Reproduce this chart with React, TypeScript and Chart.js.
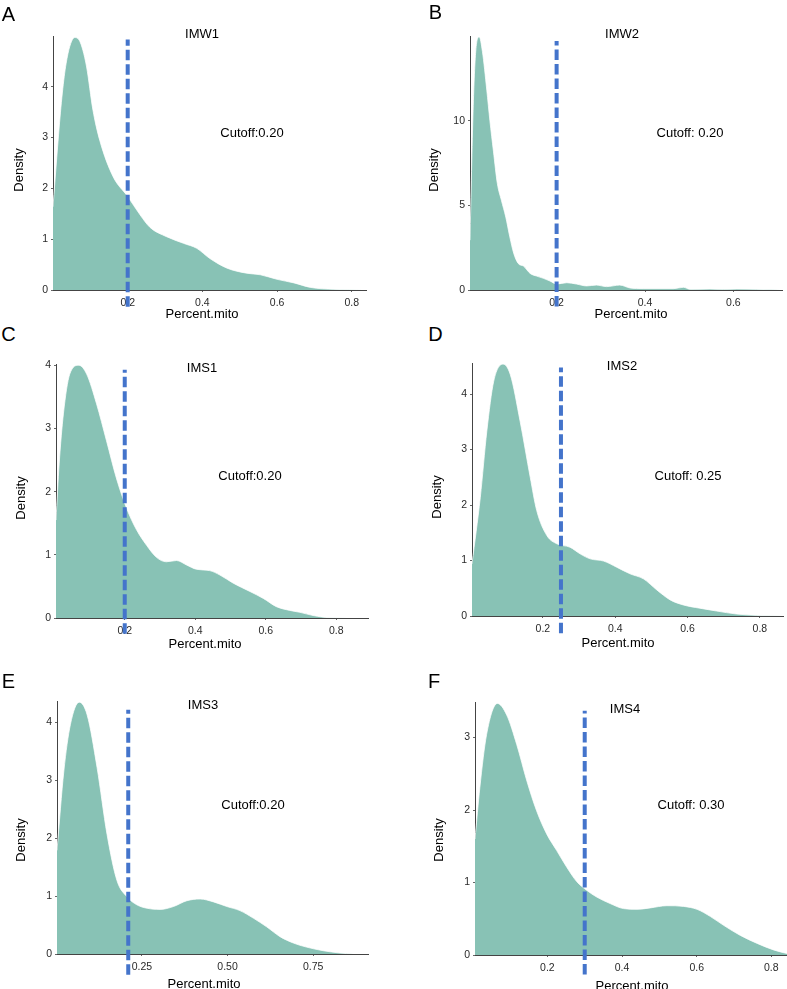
import React, { useEffect, useRef } from 'react';
import { Chart, registerables } from 'chart.js';

Chart.register(...registerables);

const FONT = '"Liberation Sans", Arial, Helvetica, sans-serif';

// ---------- labels ----------
const panelLetters = ['A', 'B', 'C', 'D', 'E', 'F'];
const sampleNames = ['IMW1', 'IMW2', 'IMS1', 'IMS2', 'IMS3', 'IMS4'];
const cutoffLabels = ['Cutoff:0.20', 'Cutoff: 0.20', 'Cutoff:0.20', 'Cutoff: 0.25', 'Cutoff:0.20', 'Cutoff: 0.30'];
const cutoffValues = [0.2, 0.2, 0.2, 0.25, 0.21, 0.3];
const xAxisTitle = 'Percent.mito';
const yAxisTitle = 'Density';

// ---------- density curves ----------
const imw1X = [0, 0.01, 0.02, 0.03, 0.04, 0.05, 0.058, 0.07, 0.08, 0.09, 0.107, 0.125, 0.161, 0.2, 0.233, 0.26, 0.304, 0.349, 0.385, 0.42, 0.466, 0.519, 0.555, 0.6, 0.645, 0.69, 0.752, 0.83];
const imw1Y = [1.64, 2.6, 3.5, 4.2, 4.65, 4.9, 4.97, 4.92, 4.72, 4.39, 3.54, 2.95, 2.23, 1.84, 1.48, 1.23, 1.05, 0.92, 0.82, 0.62, 0.43, 0.33, 0.3, 0.21, 0.14, 0.05, 0.013, 0];

const imw2X = [0.004, 0.011, 0.017, 0.025, 0.032, 0.042, 0.049, 0.057, 0.066, 0.075, 0.085, 0.094, 0.103, 0.113, 0.125, 0.14, 0.155, 0.17, 0.185, 0.2, 0.223, 0.245, 0.268, 0.29, 0.313, 0.343, 0.366, 0.396, 0.464, 0.487, 0.502, 0.547, 0.577, 0.608, 0.653, 0.706];
const imw2Y = [2.94, 10.6, 14.1, 14.94, 14.1, 11.8, 10.0, 8.2, 6.27, 5.3, 4.3, 3.14, 2.16, 1.57, 1.41, 0.98, 0.82, 0.69, 0.53, 0.35, 0.43, 0.35, 0.24, 0.29, 0.2, 0.29, 0.12, 0.08, 0.08, 0.16, 0.04, 0.06, 0.04, 0.06, 0.04, 0];

const ims1X = [0.005, 0.014, 0.026, 0.044, 0.07, 0.092, 0.12, 0.148, 0.177, 0.205, 0.233, 0.262, 0.29, 0.318, 0.347, 0.375, 0.404, 0.441, 0.47, 0.508, 0.555, 0.593, 0.63, 0.668, 0.697, 0.734, 0.782, 0.886];
const ims1Y = [1.55, 2.44, 3.23, 3.86, 4.0, 3.86, 3.39, 2.81, 2.2, 1.74, 1.4, 1.15, 0.96, 0.89, 0.91, 0.84, 0.77, 0.75, 0.68, 0.55, 0.42, 0.31, 0.18, 0.12, 0.09, 0.04, 0.005, 0];

const ims2X = [0.004, 0.027, 0.045, 0.064, 0.09, 0.11, 0.137, 0.165, 0.183, 0.211, 0.239, 0.275, 0.303, 0.331, 0.368, 0.404, 0.441, 0.478, 0.515, 0.552, 0.588, 0.634, 0.68, 0.735, 0.79, 0.864];
const ims2Y = [0.94, 2.14, 3.33, 4.23, 4.54, 4.35, 3.51, 2.5, 1.9, 1.45, 1.3, 1.24, 1.12, 1.03, 0.99, 0.88, 0.76, 0.67, 0.47, 0.29, 0.2, 0.14, 0.09, 0.036, 0.012, 0];

const ims3X = [0.002, 0.022, 0.041, 0.067, 0.09, 0.119, 0.148, 0.177, 0.206, 0.235, 0.265, 0.303, 0.342, 0.381, 0.42, 0.459, 0.498, 0.536, 0.575, 0.614, 0.653, 0.692, 0.73, 0.779, 0.828, 0.867];
const ims3Y = [1.79, 3.16, 3.96, 4.35, 4.13, 3.22, 2.07, 1.27, 0.99, 0.85, 0.79, 0.77, 0.82, 0.92, 0.95, 0.9, 0.82, 0.75, 0.62, 0.47, 0.3, 0.19, 0.12, 0.057, 0.017, 0];

const ims4X = [0.006, 0.019, 0.037, 0.066, 0.091, 0.118, 0.145, 0.171, 0.198, 0.225, 0.252, 0.279, 0.306, 0.332, 0.368, 0.404, 0.44, 0.476, 0.52, 0.565, 0.601, 0.637, 0.672, 0.717, 0.762, 0.806, 0.842];
const ims4Y = [1.6, 2.31, 3.04, 3.47, 3.31, 2.9, 2.4, 1.99, 1.67, 1.44, 1.21, 1.01, 0.89, 0.8, 0.71, 0.64, 0.63, 0.65, 0.68, 0.67, 0.63, 0.53, 0.41, 0.27, 0.16, 0.07, 0.02];

// ---------- axes ----------
const xMins = [0, 0.004, 0.005, 0.004, 0.002, 0.006];
const xMaxs = [0.838, 0.71, 0.89, 0.864, 0.91, 0.842];
const yMaxs = [5.0, 15.0, 4.02, 4.56, 4.37, 3.49];

const xTicksStd = [0.2, 0.4, 0.6, 0.8];
const xTicksStdLabels = ['0.2', '0.4', '0.6', '0.8'];
const xTicksB = [0.2, 0.4, 0.6];
const xTicksBLabels = ['0.2', '0.4', '0.6'];
const xTicksE = [0.25, 0.5, 0.75];
const xTicksELabels = ['0.25', '0.50', '0.75'];

const yTicks5 = [0, 1, 2, 3, 4];
const yTicks15 = [0, 5, 10];
const yTicks4 = [0, 1, 2, 3];

// cutoff line extent (data units): top, bottom
const cutoffLineTop = [4.93, 14.7, 3.93, 4.48, 4.22, 3.37];
const cutoffLineBottom = [-0.33, -0.98, -0.25, -0.31, -0.36, -0.27];

// ---------- layout (page pixels) ----------
type Box = { L: number; R: number; T: number; B: number };
const plotBoxes: Box[] = [
  { L: 53, R: 366, T: 36, B: 290 },
  { L: 470, R: 782, T: 36, B: 290 },
  { L: 56, R: 368, T: 364, B: 618 },
  { L: 472, R: 783, T: 363, B: 616 },
  { L: 57, R: 368, T: 701, B: 954 },
  { L: 475, R: 787, T: 702, B: 955 },
];
const letterPos = [[8.5, 13.5], [435.5, 12], [8.5, 333.5], [435.5, 333.5], [8.5, 680.5], [434, 680.5]];
const titlePos = [[202, 33], [622, 33], [202, 367], [622, 365], [203, 704], [625, 708]];
const cutoffPos = [[252, 132], [690, 132], [250, 475], [688, 475], [253, 804], [691, 804]];
const xTitlePos = [[202, 313], [631, 313], [205, 643], [618, 642], [204, 983], [632, 985]];
const yTitlePos = [[18, 170], [433, 170], [20, 498], [436, 497], [20, 840], [438, 840]];

const Y_AXIS_W = 45;
const PAD_TOP = 12;
const X_AXIS_H = 30;

const FILL = '#88C2B5';
const LINE_BLUE = '#4474CB';

type PanelCfg = {
  xs: number[];
  ys: number[];
  xTicks: number[];
  xTickLabels: string[];
  yTicks: number[];
};

const panelData: PanelCfg[] = [
  { xs: imw1X, ys: imw1Y, xTicks: xTicksStd, xTickLabels: xTicksStdLabels, yTicks: yTicks5 },
  { xs: imw2X, ys: imw2Y, xTicks: xTicksB, xTickLabels: xTicksBLabels, yTicks: yTicks15 },
  { xs: ims1X, ys: ims1Y, xTicks: xTicksStd, xTickLabels: xTicksStdLabels, yTicks: yTicks5 },
  { xs: ims2X, ys: ims2Y, xTicks: xTicksStd, xTickLabels: xTicksStdLabels, yTicks: yTicks5 },
  { xs: ims3X, ys: ims3Y, xTicks: xTicksE, xTickLabels: xTicksELabels, yTicks: yTicks5 },
  { xs: ims4X, ys: ims4Y, xTicks: xTicksStd, xTickLabels: xTicksStdLabels, yTicks: yTicks4 },
];

function Panel({ i }: { i: number }) {
  const ref = useRef<HTMLCanvasElement | null>(null);
  const box = plotBoxes[i];
  const padRight = Math.max(0, Math.min(4, 787 - box.R));
  const left = box.L - Y_AXIS_W;
  const top = box.T - PAD_TOP;
  const width = box.R - box.L + Y_AXIS_W + padRight;
  const height = box.B - box.T + PAD_TOP + X_AXIS_H;

  useEffect(() => {
    const cfg = panelData[i];
    const density = cfg.xs.map((x, k) => ({ x, y: cfg.ys[k] }));
    const cutoffLine = [
      { x: cutoffValues[i], y: cutoffLineBottom[i] },
      { x: cutoffValues[i], y: cutoffLineTop[i] },
    ];
    const chart = new Chart(ref.current as HTMLCanvasElement, {
      type: 'line',
      data: {
        datasets: [
          {
            data: cutoffLine,
            borderColor: LINE_BLUE,
            borderWidth: 4,
            borderDash: [10.5, 4],
            pointRadius: 0,
            fill: false,
            clip: false,
            borderCapStyle: 'butt',
          } as any,
          {
            data: density,
            borderColor: 'rgba(255,255,255,0.75)',
            borderWidth: 1,
            backgroundColor: FILL,
            fill: 'origin',
            pointRadius: 0,
            cubicInterpolationMode: 'monotone',
          } as any,
        ],
      },
      options: {
        responsive: false,
        maintainAspectRatio: false,
        animation: false,
        devicePixelRatio: 1,
        layout: { padding: { left: 0, top: PAD_TOP, right: padRight, bottom: 0 } },
        plugins: { legend: { display: false }, tooltip: { enabled: false }, title: { display: false } },
        events: [],
        scales: {
          x: {
            type: 'linear',
            min: xMins[i],
            max: xMaxs[i],
            afterBuildTicks: (s: any) => {
              s.ticks = cfg.xTicks.map((v) => ({ value: v }));
            },
            afterFit: (s: any) => {
              s.height = X_AXIS_H;
            },
            ticks: {
              autoSkip: false,
              maxRotation: 0,
              padding: 5,
              color: '#2a2a2a',
              font: { family: FONT, size: 10.5 },
              callback: (_v: any, idx: number) => cfg.xTickLabels[idx],
            },
            grid: { display: true, drawOnChartArea: false, drawTicks: true, tickLength: 2, color: '#666' },
            border: { display: true, color: '#444', width: 1 },
          },
          y: {
            type: 'linear',
            min: 0,
            max: yMaxs[i],
            afterBuildTicks: (s: any) => {
              s.ticks = cfg.yTicks.map((v) => ({ value: v }));
            },
            afterFit: (s: any) => {
              s.width = Y_AXIS_W;
            },
            ticks: {
              autoSkip: false,
              padding: 3,
              color: '#2a2a2a',
              font: { family: FONT, size: 10.5 },
              callback: (v: any) => String(v),
            },
            grid: { display: true, drawOnChartArea: false, drawTicks: true, tickLength: 2, color: '#666' },
            border: { display: true, color: '#444', width: 1 },
          },
        },
      } as any,
    });
    return () => chart.destroy();
  }, [i]);

  return (
    <canvas
      ref={ref}
      width={width}
      height={height}
      style={{ position: 'absolute', left, top, width, height }}
    />
  );
}

const textBase: React.CSSProperties = {
  position: 'absolute',
  fontFamily: FONT,
  color: '#000',
  lineHeight: 1,
  whiteSpace: 'nowrap',
  transform: 'translate(-50%, -50%)',
};

export default function App() {
  return (
    <div
      style={{
        position: 'absolute',
        left: 0,
        top: 0,
        width: 787,
        height: 989,
        overflow: 'hidden',
        background: '#fff',
      }}
    >
      {panelLetters.map((_, i) => (
        <Panel key={'p' + i} i={i} />
      ))}
      {panelLetters.map((l, i) => (
        <div key={'l' + i} style={{ ...textBase, left: letterPos[i][0], top: letterPos[i][1], fontSize: 20 }}>
          {l}
        </div>
      ))}
      {sampleNames.map((n, i) => (
        <div key={'t' + i} style={{ ...textBase, left: titlePos[i][0], top: titlePos[i][1], fontSize: 13 }}>
          {n}
        </div>
      ))}
      {cutoffLabels.map((c, i) => (
        <div key={'c' + i} style={{ ...textBase, left: cutoffPos[i][0], top: cutoffPos[i][1], fontSize: 13 }}>
          {c}
        </div>
      ))}
      {panelLetters.map((_, i) => (
        <div key={'x' + i} style={{ ...textBase, left: xTitlePos[i][0], top: xTitlePos[i][1], fontSize: 13 }}>
          {xAxisTitle}
        </div>
      ))}
      {panelLetters.map((_, i) => (
        <div
          key={'y' + i}
          style={{
            ...textBase,
            left: yTitlePos[i][0],
            top: yTitlePos[i][1],
            fontSize: 13,
            transform: 'translate(-50%, -50%) rotate(-90deg)',
          }}
        >
          {yAxisTitle}
        </div>
      ))}
    </div>
  );
}
